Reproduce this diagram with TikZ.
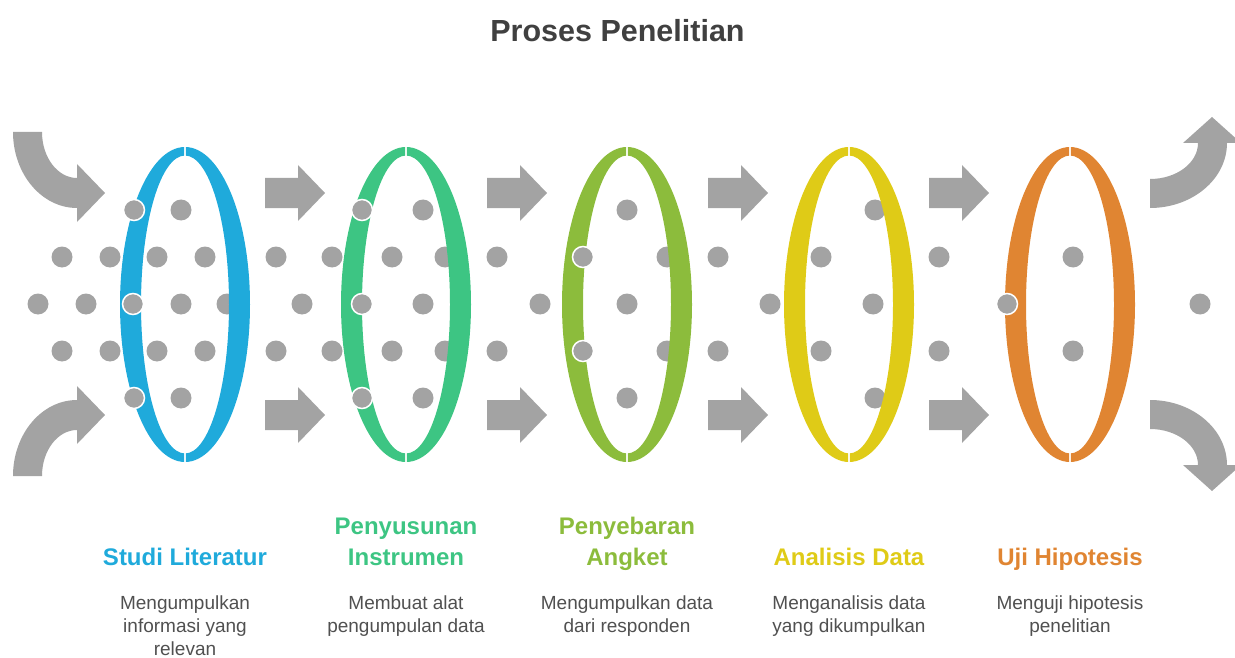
\documentclass[tikz,border=0pt]{standalone}
\usepackage{fontspec}
\setmainfont{Liberation Sans}
\usetikzlibrary{positioning}

\definecolor{ringblue}{HTML}{1FAADB}
\definecolor{ringgreen}{HTML}{3DC583}
\definecolor{ringlime}{HTML}{8CBC3C}
\definecolor{ringyellow}{HTML}{DFCB17}
\definecolor{ringorange}{HTML}{E08532}
\definecolor{flowgray}{HTML}{A3A3A3}
\definecolor{titlegray}{HTML}{404040}
\definecolor{descgray}{HTML}{505050}

\tikzset{
  flow/.style={fill=flowgray},
  dotback/.style={fill=flowgray},
  dotfront/.style={fill=flowgray, draw=white, line width=1.5pt},
  steplabel/.style={inner sep=0pt, align=center, anchor=base, font=\fontsize{24}{31}\selectfont\bfseries},
  stepdesc/.style={inner sep=0pt, align=center, anchor=north, text=descgray, font=\fontsize{19}{23}\selectfont},
}

\begin{document}
\begin{tikzpicture}[x=1pt,y=-1pt]
\useasboundingbox (0,0) rectangle (1235,658);

% title
\node[text=titlegray, font=\fontsize{30.5}{36}\selectfont\bfseries] (title) at (617.5,31) {Proses Penelitian};

% curved arrows in and out
\path[flow] (13,132) arc[start angle=180, end angle=90, x radius=64, y radius=76]
  -- (77,222) -- (105,193) -- (77,164) -- (77,178)
  arc[start angle=90, end angle=180, x radius=35, y radius=46] -- cycle;
\path[flow] (13,476) arc[start angle=180, end angle=270, x radius=64, y radius=76]
  -- (77,386) -- (105,415) -- (77,444) -- (77,430)
  arc[start angle=270, end angle=180, x radius=35, y radius=46] -- cycle;
\path[flow] (1150,208) arc[start angle=90, end angle=0, x radius=77, y radius=65]
  -- (1241,143) -- (1212,117) -- (1183,143) -- (1198,143)
  arc[start angle=0, end angle=90, x radius=48, y radius=36] -- cycle;
\path[flow] (1150,400) arc[start angle=270, end angle=360, x radius=77, y radius=65]
  -- (1241,465) -- (1212,491) -- (1183,465) -- (1198,465)
  arc[start angle=360, end angle=270, x radius=48, y radius=36] -- cycle;

% straight arrows between the rings
\foreach \ax in {265,487,708,929}
  \foreach \ay in {193,415}
    \path[flow] (\ax,\ay-15) -- ++(33,0) -- ++(0,-13) -- (\ax+60,\ay) -- (\ax+33,\ay+28)
      -- ++(0,-13) -- (\ax,\ay+15) -- cycle;

% dots passing through
\foreach \dx/\dy in {181/210,62/257,110/257,157/257,205/257,38/304,86/304,181/304,227/304,
    62/351,110/351,157/351,205/351,181/398,
    276/257,332/257,392/257,445/257,302/304,423/304,276/351,332/351,392/351,445/351,423/210,423/398,
    627/210,497/257,667/257,718/257,540/304,627/304,770/304,497/351,667/351,718/351,627/398,
    875/210,821/257,939/257,873/304,821/351,939/351,875/398,
    1073/257,1073/351,1200/304}
  \fill[dotback] (\dx,\dy) circle[radius=10.5];

% rings, each as two crescents
\foreach \cx/\col in {185/ringblue,406/ringgreen,627/ringlime,849/ringyellow,1070/ringorange}{
  \begin{scope}
    \clip (\cx-80,140) rectangle (\cx-0.8,470);
    \fill[\col, even odd rule] (\cx,304.5) ellipse[x radius=65, y radius=157.5]
      (\cx,304.5) ellipse[x radius=44, y radius=149];
  \end{scope}
  \begin{scope}
    \clip (\cx+0.8,140) rectangle (\cx+80,470);
    \fill[\col, even odd rule] (\cx,304.5) ellipse[x radius=65, y radius=157.5]
      (\cx,304.5) ellipse[x radius=44, y radius=149];
  \end{scope}
}

% dots lying on the front crescents
\foreach \dx/\dy in {134/210,133/304,134/398,362/210,362/304,362/398,583/257,583/351,1007/304}
  \draw[dotfront] (\dx,\dy) circle[radius=10.5];

% step labels
\node[steplabel, text=ringblue] (litlabel) at (185,565) {Studi Literatur};
\node[steplabel, text=ringgreen] (instlabel) at (406,565) {Penyusunan\\Instrumen};
\node[steplabel, text=ringlime] (angketlabel) at (627,565) {Penyebaran\\Angket};
\node[steplabel, text=ringyellow] (analisislabel) at (849,565) {Analisis Data};
\node[steplabel, text=ringorange] (ujilabel) at (1070,565) {Uji Hipotesis};

% step descriptions
\node[stepdesc] (litdesc) at (185,596) {Mengumpulkan\\informasi yang\\relevan};
\node[stepdesc] (instdesc) at (406,596) {Membuat alat\\pengumpulan data};
\node[stepdesc] (angketdesc) at (627,596) {Mengumpulkan data\\dari responden};
\node[stepdesc] (analisisdesc) at (849,596) {Menganalisis data\\yang dikumpulkan};
\node[stepdesc] (ujidesc) at (1070,596) {Menguji hipotesis\\penelitian};
\end{tikzpicture}
\end{document}
